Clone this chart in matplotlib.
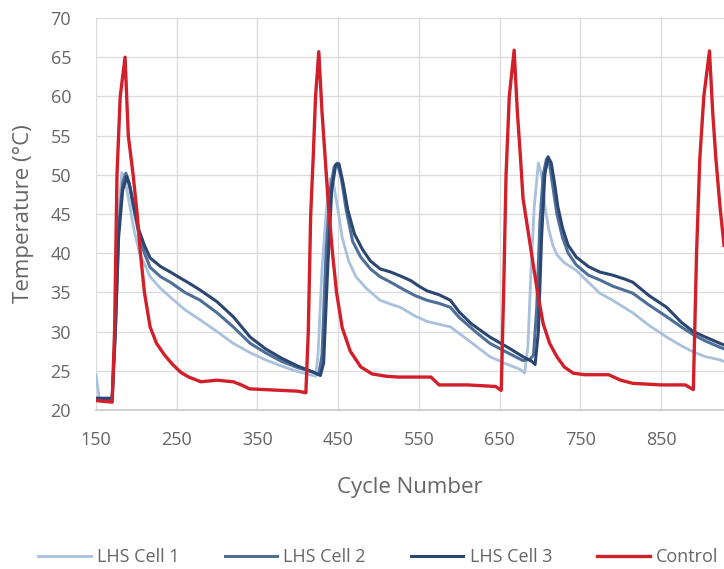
import matplotlib
matplotlib.use('Agg')
import matplotlib.pyplot as plt

# cycle numbers / temperatures
control_x = [150, 170, 173, 176, 180, 186, 190, 196, 201, 205, 210, 217, 225, 235, 245, 255, 265, 280,
             300, 320, 330, 340, 360, 380, 400, 410, 413, 416, 419, 422, 426, 430, 434, 438, 443, 448,
             455, 465, 478, 492, 510, 525, 565, 575, 610, 645, 652, 655, 658, 662, 668, 672, 676, 679,
             685, 691, 697, 704, 712, 721, 730, 741, 755, 785, 800, 815, 850, 880, 890, 894, 898, 903,
             910, 914, 918, 923, 928]
control_y = [21.2, 21.0, 30.0, 50.0, 60.0, 65.0, 55.0, 50.0, 45.0, 40.0, 35.0, 30.6, 28.5, 27.0, 25.8,
             24.8, 24.2, 23.6, 23.8, 23.6, 23.2, 22.7, 22.6, 22.5, 22.4, 22.2, 30.0, 45.0, 52.0, 60.0,
             65.7, 58.0, 52.0, 46.0, 40.0, 35.0, 30.5, 27.5, 25.5, 24.6, 24.3, 24.2, 24.2, 23.2, 23.2,
             23.0, 22.5, 35.0, 50.0, 60.0, 65.9, 58.0, 52.0, 47.0, 43.0, 39.0, 35.0, 31.0, 28.5, 26.8,
             25.5, 24.7, 24.5, 24.5, 23.8, 23.4, 23.2, 23.2, 22.6, 40.0, 52.0, 60.0, 65.8, 58.0, 52.0,
             46.0, 41.0]

cell3_x = [150, 170, 174, 178, 183, 188, 192, 197, 203, 210, 217, 230, 242, 255, 265, 279, 300, 320,
           341, 360, 380, 400, 420, 428, 432, 437, 442, 447, 451, 456, 462, 470, 480, 490, 502, 515,
           527, 540, 550, 560, 575, 589, 600, 615, 638, 660, 679, 690, 694, 698, 702, 706, 710, 714,
           718, 722, 728, 735, 745, 760, 774, 790, 805, 815, 835, 857, 875, 890, 905, 923, 928]
cell3_y = [21.5, 21.5, 30.0, 42.0, 48.0, 49.8, 48.5, 46.0, 43.0, 41.0, 39.4, 38.3, 37.6, 36.8, 36.2,
           35.3, 33.8, 31.9, 29.3, 27.8, 26.6, 25.6, 24.8, 24.4, 26.0, 38.0, 48.0, 51.3, 51.4, 49.0,
           45.5, 42.5, 40.5, 39.0, 38.0, 37.6, 37.1, 36.5, 35.8, 35.2, 34.7, 34.0, 32.5, 31.0, 29.3,
           28.0, 26.8, 26.2, 25.8, 30.0, 42.0, 50.0, 52.3, 51.5, 49.0, 46.0, 43.2, 41.0, 39.5, 38.3,
           37.6, 37.2, 36.7, 36.3, 34.6, 33.1, 31.2, 30.0, 29.3, 28.5, 28.3]

cell2_x = [150, 170, 174, 178, 183, 187, 191, 196, 203, 210, 217, 230, 242, 260, 279, 300, 320, 341,
           360, 380, 400, 420, 426, 430, 435, 440, 445, 449, 454, 460, 468, 478, 490, 502, 515, 527,
           545, 560, 575, 589, 600, 620, 638, 660, 679, 688, 692, 696, 700, 704, 708, 712, 716, 721,
           728, 735, 745, 760, 774, 790, 815, 835, 857, 875, 890, 905, 923, 928]
cell2_y = [21.5, 21.3, 30.0, 43.0, 49.0, 50.2, 49.0, 46.0, 42.5, 40.0, 38.2, 37.0, 36.3, 35.0, 34.0,
           32.4, 30.6, 28.5, 27.3, 26.2, 25.4, 24.8, 24.5, 27.0, 40.0, 48.0, 51.0, 51.5, 49.5, 45.5,
           41.5, 39.5, 38.0, 37.0, 36.3, 35.6, 34.6, 34.0, 33.6, 33.1, 31.8, 30.0, 28.5, 27.3, 26.3,
           26.5, 27.0, 33.0, 44.0, 50.0, 52.0, 51.3, 48.5, 45.0, 42.0, 40.0, 38.5, 37.2, 36.6, 35.8,
           34.9, 33.4, 31.9, 30.6, 29.6, 28.8, 28.0, 27.8]

cell1_x = [150, 154, 170, 174, 178, 182, 186, 191, 197, 204, 217, 230, 242, 260, 279, 300, 320, 341,
           360, 380, 400, 415, 422, 425, 430, 435, 440, 444, 449, 455, 463, 472, 485, 502, 515, 527,
           545, 560, 589, 610, 638, 660, 675, 681, 685, 689, 693, 698, 702, 706, 711, 716, 721, 730,
           745, 760, 774, 790, 815, 835, 857, 875, 890, 905, 923, 928]
cell1_y = [24.5, 21.5, 21.5, 32.0, 45.0, 50.3, 49.5, 46.5, 43.0, 40.0, 37.0, 35.5, 34.4, 32.8, 31.5,
           30.0, 28.5, 27.3, 26.4, 25.6, 24.9, 24.5, 24.3, 27.0, 38.0, 45.0, 49.5, 49.0, 46.0, 42.0,
           39.0, 37.0, 35.5, 34.0, 33.5, 33.1, 32.0, 31.3, 30.6, 29.0, 26.8, 25.8, 25.2, 24.7, 28.0,
           38.0, 46.0, 51.5, 50.0, 46.0, 43.0, 41.0, 39.8, 38.8, 37.8, 36.3, 34.9, 34.0, 32.4, 30.8,
           29.3, 28.2, 27.4, 26.8, 26.4, 26.2]

x_ticks = [150, 250, 350, 450, 550, 650, 750, 850]
y_ticks = [20, 25, 30, 35, 40, 45, 50, 55, 60, 65, 70]

plt.rcParams['font.family'] = ['Open Sans', 'DejaVu Sans']
grey = '#666666'

fig = plt.figure(figsize=(7.24, 5.69), dpi=100)
ax = fig.add_axes([96 / 724, 1 - 410 / 569, 1 - 96 / 724, (410 - 18) / 569])

ax.plot(cell1_x, cell1_y, color='#A9C1DC', lw=2.0, label='LHS Cell 1')
ax.plot(cell2_x, cell2_y, color='#4E6F98', lw=2.2, label='LHS Cell 2')
ax.plot(cell3_x, cell3_y, color='#2B4670', lw=2.2, label='LHS Cell 3')
ax.plot(control_x, control_y, color='#D2202A', lw=2.4, label='Control')

ax.set_xlim(150, 928)
ax.set_ylim(20, 70)
ax.set_xticks(x_ticks)
ax.set_yticks(y_ticks)
ax.grid(True, color='#DCDCDC', lw=1.0)
ax.set_axisbelow(True)
for s in ['top', 'right', 'left']:
    ax.spines[s].set_visible(False)
ax.spines['bottom'].set_color('#C8C8C8')
ax.spines['bottom'].set_linewidth(1.2)
ax.tick_params(length=0, labelsize=13, labelcolor=grey)
ax.tick_params(axis='x', pad=15)
ax.tick_params(axis='y', pad=18)

ax.set_xlabel('Cycle Number', fontsize=16, color=grey, labelpad=20)
ax.set_ylabel('Temperature (\u00b0C)', fontsize=16, color=grey, labelpad=12)

fig.legend(loc='center left', bbox_to_anchor=(22 / 724, 1 - 557 / 569), ncol=4, frameon=False,
           fontsize=13, handlelength=2.9, handletextpad=0.35, columnspacing=2.5,
           labelcolor=grey)

fig.savefig('out.png', dpi=100)
